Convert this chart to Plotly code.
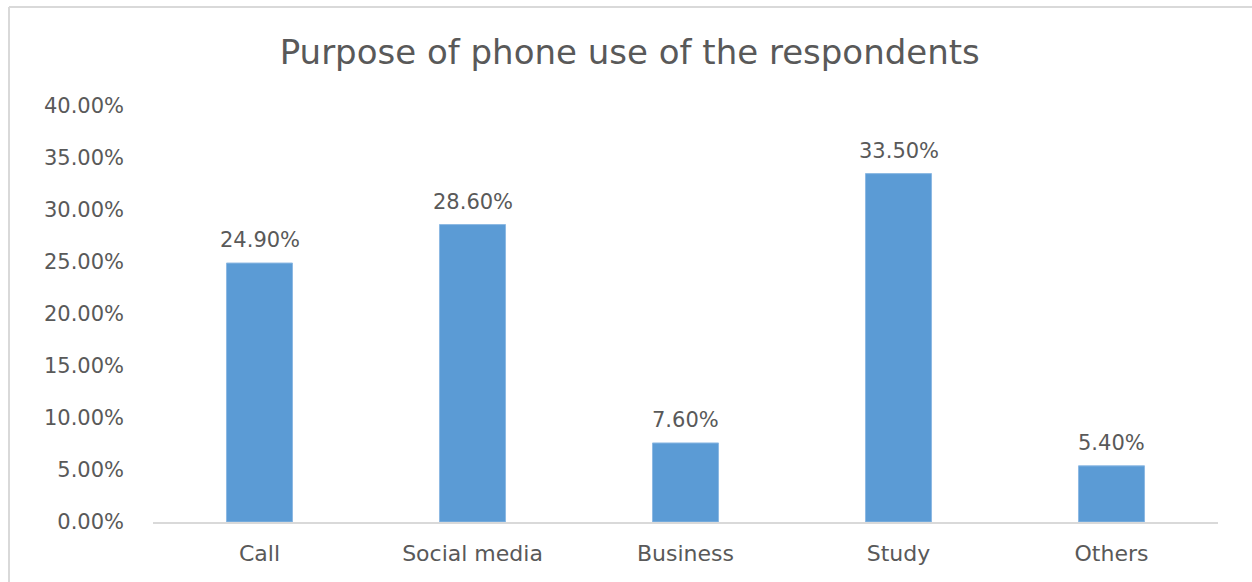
import plotly.graph_objects as go

categories = ["Call", "Social media", "Business", "Study", "Others"]
shares = [24.9, 28.6, 7.6, 33.5, 5.4]
tick_values = [0, 5, 10, 15, 20, 25, 30, 35, 40]
tick_labels = [f"{v:.2f}%" for v in tick_values]
value_labels = [f"{v:.2f}%" for v in shares]

text_color = "#595959"
font_family = "DejaVu Sans, sans-serif"

fig = go.Figure(
    go.Bar(
        x=categories,
        y=shares,
        width=0.31,
        marker=dict(color="#5B9BD5", line=dict(color="#8DB9E3", width=1)),
        hoverinfo="x+y",
    )
)

# value labels above each bar
for cat, val, lab in zip(categories, shares, value_labels):
    fig.add_annotation(
        x=cat, y=val, text=lab, showarrow=False,
        yanchor="bottom", yshift=9,
        font=dict(size=21, color=text_color, family=font_family),
    )

# outer chart frame (top and left edges)
frame_left = (9 - 153) / 1065
frame_top = (522 - 7) / 416
frame_bottom = (522 - 590) / 416
fig.add_shape(type="line", xref="paper", yref="paper",
              x0=frame_left, x1=1.2, y0=frame_top, y1=frame_top,
              line=dict(color="#D9D9D9", width=2))
fig.add_shape(type="line", xref="paper", yref="paper",
              x0=frame_left, x1=frame_left, y0=frame_bottom, y1=frame_top,
              line=dict(color="#D9D9D9", width=2))

fig.update_layout(
    width=1252,
    height=582,
    margin=dict(l=153, r=34, t=106, b=60),
    paper_bgcolor="white",
    plot_bgcolor="white",
    showlegend=False,
    title=dict(
        text="Purpose of phone use of the respondents",
        x=0.503,
        xanchor="center",
        y=0.91,
        yanchor="middle",
        font=dict(size=34, color=text_color, family=font_family),
    ),
    font=dict(family=font_family, color=text_color),
)

fig.update_xaxes(
    showgrid=False,
    showline=True,
    linecolor="#D9D9D9",
    linewidth=1.5,
    ticks="",
    tickfont=dict(size=22, color=text_color),
    ticklabelstandoff=11,
)
fig.update_yaxes(
    range=[0, 40],
    tickvals=tick_values,
    ticktext=tick_labels,
    showgrid=False,
    zeroline=False,
    showline=False,
    ticks="",
    tickfont=dict(size=21, color=text_color),
    ticklabelstandoff=28,
)

fig.write_html("out.html")
